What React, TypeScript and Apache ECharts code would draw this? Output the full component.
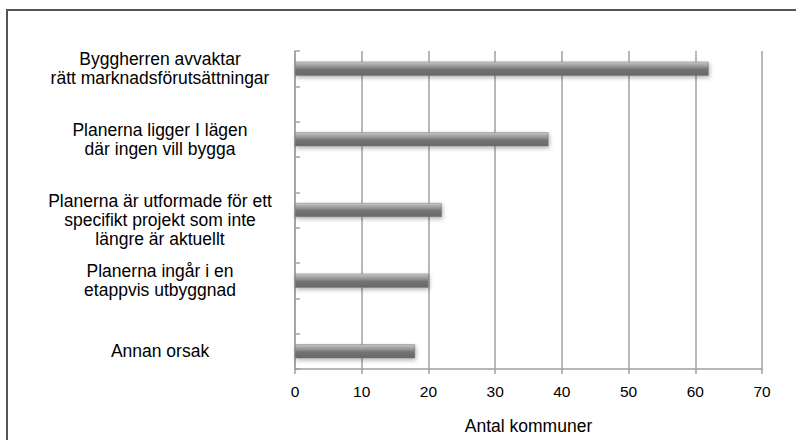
import React, { useEffect, useRef } from "react";
import * as echarts from "echarts";

const categories = [
  "Byggherren avvaktar\nrätt marknadsförutsättningar",
  "Planerna ligger I lägen\ndär ingen vill bygga",
  "\nPlanerna är utformade för ett\nspecifikt projekt som inte\nlängre är aktuellt",
  "Planerna ingår i en\netappvis utbyggnad",
  "Annan orsak",
];
const values = [62, 38, 22, 20, 18];
const xTicks = { min: 0, max: 70, interval: 10 };
const xAxisName = "Antal kommuner";

export default function App() {
  const ref = useRef<HTMLDivElement>(null);
  useEffect(() => {
    if (!ref.current) return;
    const chart = echarts.init(ref.current, undefined, { renderer: "svg" });
    // interleave empty slots between categories so the axis shows half-band ticks
    const slotCats: string[] = [];
    const slotVals: (number | null)[] = [];
    categories.forEach((c, i) => {
      slotCats.push(c);
      slotVals.push(values[i]);
      if (i < categories.length - 1) {
        slotCats.push("");
        slotVals.push(null);
      }
    });
    const font = "'Liberation Sans', Arial, sans-serif";
    chart.setOption({
      animation: false,
      backgroundColor: "#ffffff",
      graphic: [
        {
          type: "rect",
          shape: { x: 7, y: 10, width: 820, height: 460 },
          style: { fill: "none", stroke: "#555555", lineWidth: 2 },
          z: 100,
        },
      ],
      grid: { left: 295, right: 34, top: 51, bottom: 60, containLabel: false },
      xAxis: {
        type: "value",
        min: xTicks.min,
        max: xTicks.max,
        interval: xTicks.interval,
        name: xAxisName,
        nameLocation: "middle",
        nameGap: 48,
        nameTextStyle: { fontFamily: font, fontSize: 17.5, color: "#000" },
        axisLine: { show: true, lineStyle: { color: "#a0a0a0", width: 1.5 } },
        axisTick: { show: true, length: 5, lineStyle: { color: "#a0a0a0", width: 1.5 } },
        axisLabel: { fontFamily: font, fontSize: 15.5, color: "#000", margin: 14 },
        splitLine: { show: true, lineStyle: { color: "#a0a0a0", width: 1.5 } },
      },
      yAxis: {
        type: "category",
        data: slotCats,
        inverse: true,
        boundaryGap: true,
        axisLine: { show: true, lineStyle: { color: "#a0a0a0", width: 1.5 } },
        axisTick: { show: true, inside: true, length: 5, interval: 0, lineStyle: { color: "#a0a0a0", width: 1.5 } },
        axisLabel: {
          interval: 0,
          align: "center",
          margin: 135,
          fontFamily: font,
          fontSize: 17.5,
          lineHeight: 19,
          color: "#000",
        },
        splitLine: { show: false },
      },
      series: [
        {
          type: "bar",
          data: slotVals,
          barWidth: 14,
          itemStyle: {
            color: new echarts.graphic.LinearGradient(0, 0, 0, 1, [
              { offset: 0, color: "#cccccc" },
              { offset: 0.15, color: "#b0b0b0" },
              { offset: 0.4, color: "#8e8e8e" },
              { offset: 0.55, color: "#737373" },
              { offset: 1, color: "#686868" },
            ]),
            borderColor: "#767676",
            borderWidth: 0.5,
            shadowColor: "rgba(0,0,0,0.3)",
            shadowBlur: 4,
            shadowOffsetX: 1,
            shadowOffsetY: 2,
          },
        },
      ],
    });
    return () => chart.dispose();
  }, []);
  return (
    <div
      ref={ref}
      style={{ position: "fixed", left: 0, top: 0, width: 796, height: 440 }}
    />
  );
}
